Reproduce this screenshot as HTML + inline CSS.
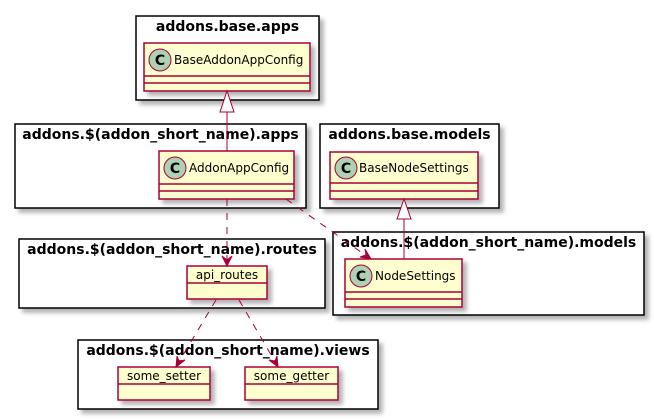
<!DOCTYPE html>
<html><head><meta charset="utf-8"><style>
html,body{margin:0;padding:0;background:#fff;width:654px;height:419px;overflow:hidden}
svg{display:block}
.pk{fill:#fff;stroke:#000;stroke-width:1.5;filter:url(#sh)}
.cl{fill:#FEFECE;stroke:#A80036;stroke-width:1.5;filter:url(#sh)}
.dv{stroke:#A80036;stroke-width:1.5}
.pt{font-family:"DejaVu Sans","Liberation Sans",sans-serif;font-weight:bold;font-size:14px;fill:#000}
.ct{font-family:"DejaVu Sans","Liberation Sans",sans-serif;font-size:12px;fill:#000}
.ci{fill:#ADD1B2;stroke:#A80036;stroke-width:1}
.cc{font-family:"DejaVu Sans","Liberation Sans",sans-serif;font-weight:bold;font-size:14px;fill:#000}
.ln{stroke:#A80036;stroke-width:1;fill:none}
.ds{stroke:#A80036;stroke-width:1;fill:none;stroke-dasharray:7,7}
</style></head><body>
<svg width="654" height="419" viewBox="0 0 654 419" xmlns="http://www.w3.org/2000/svg">
<defs><filter id="sh" x="-10%" y="-10%" width="130%" height="140%"><feDropShadow dx="4" dy="4" stdDeviation="2" flood-color="#000" flood-opacity="0.3"/></filter></defs>

<!-- packages -->
<rect class="pk" x="136" y="16" width="183" height="84"/>
<text class="pt" x="227.5" y="31" text-anchor="middle">addons.base.apps</text>
<rect class="pk" x="15" y="124" width="291" height="84"/>
<text class="pt" x="160.5" y="139" text-anchor="middle">addons.$(addon_short_name).apps</text>
<rect class="pk" x="320" y="124" width="179" height="84"/>
<text class="pt" x="409.5" y="139" text-anchor="middle">addons.base.models</text>
<rect class="pk" x="19" y="239" width="306" height="69"/>
<text class="pt" x="172" y="254" text-anchor="middle">addons.$(addon_short_name).routes</text>
<rect class="pk" x="333" y="232" width="311" height="83"/>
<text class="pt" x="488.5" y="247" text-anchor="middle">addons.$(addon_short_name).models</text>
<rect class="pk" x="78" y="340" width="300" height="69"/>
<text class="pt" x="228" y="355" text-anchor="middle">addons.$(addon_short_name).views</text>

<!-- classes -->
<rect class="cl" x="144" y="43" width="166" height="48"/>
<line class="dv" x1="144" y1="76" x2="310" y2="76"/><line class="dv" x1="144" y1="83" x2="310" y2="83"/>
<circle class="ci" cx="160" cy="60" r="11"/><text class="cc" x="160" y="65" text-anchor="middle">C</text>
<text class="ct" x="174" y="64">BaseAddonAppConfig</text>

<rect class="cl" x="159" y="151" width="135" height="48"/>
<line class="dv" x1="159" y1="184" x2="294" y2="184"/><line class="dv" x1="159" y1="191" x2="294" y2="191"/>
<circle class="ci" cx="175" cy="168" r="11"/><text class="cc" x="175" y="173" text-anchor="middle">C</text>
<text class="ct" x="189" y="172">AddonAppConfig</text>

<rect class="cl" x="330" y="152" width="148" height="47"/>
<line class="dv" x1="330" y1="183" x2="478" y2="183"/><line class="dv" x1="330" y1="191" x2="478" y2="191"/>
<circle class="ci" cx="346" cy="168" r="11"/><text class="cc" x="346" y="173" text-anchor="middle">C</text>
<text class="ct" x="359" y="172">BaseNodeSettings</text>

<rect class="cl" x="345" y="259" width="117" height="48"/>
<line class="dv" x1="345" y1="292" x2="462" y2="292"/><line class="dv" x1="345" y1="299" x2="462" y2="299"/>
<circle class="ci" cx="361" cy="276" r="11"/><text class="cc" x="361" y="281" text-anchor="middle">C</text>
<text class="ct" x="375" y="280">NodeSettings</text>

<rect class="cl" x="187" y="266" width="80" height="33"/>
<line class="dv" x1="187" y1="283" x2="267" y2="283"/>
<text class="ct" x="227" y="279" text-anchor="middle">api_routes</text>

<rect class="cl" x="118" y="367" width="92" height="33"/>
<line class="dv" x1="118" y1="384" x2="210" y2="384"/>
<text class="ct" x="164" y="380" text-anchor="middle">some_setter</text>

<rect class="cl" x="245" y="367" width="93" height="33"/>
<line class="dv" x1="245" y1="384" x2="338" y2="384"/>
<text class="ct" x="291.5" y="380" text-anchor="middle">some_getter</text>

<!-- inheritance -->
<line class="ln" x1="227" y1="112" x2="227" y2="151"/>
<polygon points="227,91 220,112 234,112" fill="#fff" stroke="#A80036"/>
<line class="ln" x1="404" y1="219" x2="404" y2="259"/>
<polygon points="404,199 397,219 411,219" fill="#fff" stroke="#A80036"/>

<!-- dependencies -->
<line class="ds" x1="227" y1="199" x2="227" y2="264"/>
<polygon points="227,266 222,256 227,260 232,256" fill="#A80036" stroke="#A80036"/>
<line class="ds" x1="286" y1="199" x2="368" y2="257"/>
<polygon points="371,259 360,257 366,255 365,249" fill="#A80036" stroke="#A80036"/>
<line class="ds" x1="216" y1="300" x2="177" y2="365"/>
<polygon points="176,367 177,356 179,361 185,360" fill="#A80036" stroke="#A80036"/>
<line class="ds" x1="239" y1="300" x2="277" y2="365"/>
<polygon points="278,367 269,360 275,361 277,356" fill="#A80036" stroke="#A80036"/>
</svg>
</body></html>
